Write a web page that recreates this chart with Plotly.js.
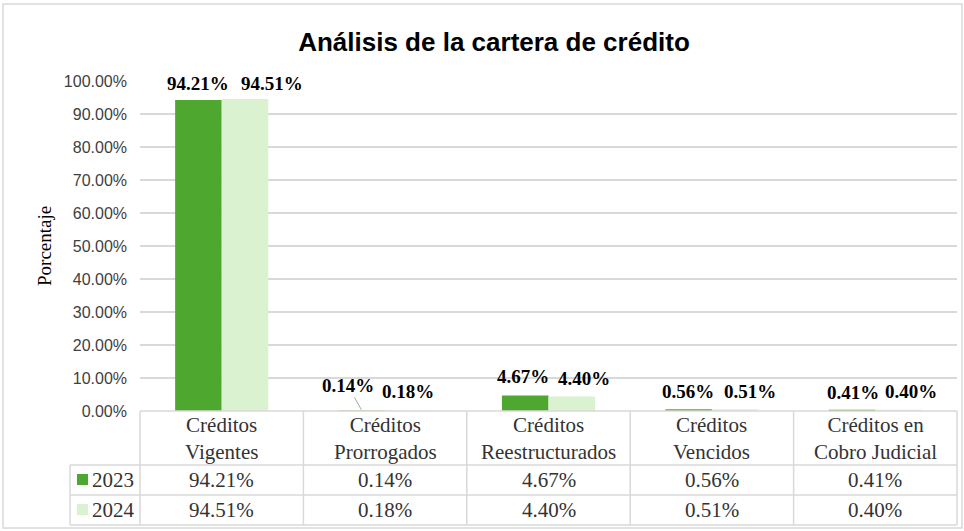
<!DOCTYPE html>
<html>
<head>
<meta charset="utf-8">
<script src="https://cdn.plot.ly/plotly-3.0.1.min.js"></script>
<style>html,body{margin:0;padding:0;background:#fff;}#chart{width:964px;height:531px;}</style>
</head>
<body>
<div id="chart"></div>
<script>
// ---- data ----
const categories = ['Créditos<br>Vigentes', 'Créditos<br>Prorrogados', 'Créditos<br>Reestructurados', 'Créditos<br>Vencidos', 'Créditos en<br>Cobro Judicial'];
const years = ['2023', '2024'];
const values2023 = [94.21, 0.14, 4.67, 0.56, 0.41];
const values2024 = [94.51, 0.18, 4.40, 0.51, 0.40];
const yTicks = [0, 10, 20, 30, 40, 50, 60, 70, 80, 90, 100];

// ---- style / layout config ----
const W = 964, H = 531;
const M = {l: 140, r: 7, t: 81, b: 120};
const PW = W - M.l - M.r, PH = H - M.t - M.b;
const px = x => (x - M.l) / PW;          // pixel x -> paper
const py = y => (H - M.b - y) / PH;      // pixel y -> paper
const colors = ['#4EA72E', '#DAF2D0'];
const gridColor = '#d9d9d9';
const serif = 'Liberation Serif, Times New Roman, serif';
const sans = 'Liberation Sans, Arial, sans-serif';
const bargap = 0.43;
const half = (1 - bargap) / 4;           // half of one bar width in category units
// data label pixel offsets (x from bar-group centre, y above bar top)
const labelDX = [[-24, 50], [-37, 23], [-26, 35], [-24, 38], [-22, 36]];
const labelDY = [[17, 16], [25, 19], [19, 17.5], [18, 18], [17.6, 17.7]];

const series = [values2023, values2024];
const fmt = v => v.toFixed(2) + '%';

const traces = series.map((vals, s) => ({
  type: 'bar', name: years[s], x: categories.map((c, i) => i), y: vals,
  marker: {color: colors[s]}, hoverinfo: 'skip', showlegend: false
}));

const annotations = [];
const shapes = [];

// data labels
series.forEach((vals, s) => {
  vals.forEach((v, i) => {
    const a = {
      x: i, y: v, xref: 'x', yref: 'y', text: '<b>' + fmt(v) + '</b>',
      showarrow: false, xshift: labelDX[i][s], yshift: labelDY[i][s],
      yanchor: 'middle', xanchor: 'center',
      font: {family: serif, size: 19, color: '#000'}
    };
    if (i === 1 && s === 0) {
      // leader line to small bar
      Object.assign(a, {
        x: i - half, showarrow: true, arrowhead: 0, arrowwidth: 1, arrowcolor: '#a6a6a6',
        ax: -14, ay: -labelDY[i][s], xshift: 0, yshift: 0, standoff: 1
      });
    }
    annotations.push(a);
  });
});

// table: header text + values
categories.forEach((c, i) => {
  annotations.push({x: i, y: py(438), xref: 'x', yref: 'paper', text: c, showarrow: false,
    font: {family: serif, size: 21, color: '#333'}, yanchor: 'middle', align: 'center'});
  series.forEach((vals, s) => {
    annotations.push({x: i, y: py(480 + 30 * s), xref: 'x', yref: 'paper', text: fmt(vals[i]),
      showarrow: false, font: {family: serif, size: 21, color: '#333'}, yanchor: 'middle'});
  });
});
years.forEach((yr, s) => {
  annotations.push({x: px(113), y: py(480 + 30 * s), xref: 'paper', yref: 'paper', text: yr,
    showarrow: false, font: {family: serif, size: 21, color: '#333'}, xanchor: 'center', yanchor: 'middle'});
  shapes.push({type: 'rect', xref: 'paper', yref: 'paper', x0: px(77), x1: px(88),
    y0: py(485 + 30 * s), y1: py(474 + 30 * s), fillcolor: colors[s], line: {width: 0}});
});

// y axis title
annotations.push({x: px(44), y: py(246), xref: 'paper', yref: 'paper', text: 'Porcentaje', textangle: -90,
  showarrow: false, font: {family: serif, size: 19, color: '#000'}, xanchor: 'center', yanchor: 'middle'});

// table lines
const line = {color: gridColor, width: 1.5};
shapes.push({type: 'line', xref: 'paper', yref: 'paper', x0: 0, x1: 1, y0: 0, y1: 0, line});
[465, 495, 525].forEach(y => shapes.push({type: 'line', xref: 'paper', yref: 'paper',
  x0: px(70), x1: 1, y0: py(y), y1: py(y), line}));
shapes.push({type: 'line', xref: 'paper', yref: 'paper', x0: px(70), x1: px(70), y0: py(465), y1: py(525), line});
for (let k = 0; k <= categories.length; k++) {
  const xp = k / categories.length;
  shapes.push({type: 'line', xref: 'paper', yref: 'paper', x0: xp, x1: xp, y0: 0, y1: py(525), line});
}
// outer border
shapes.push({type: 'rect', xref: 'paper', yref: 'paper', x0: px(3), x1: px(962), y0: py(528), y1: py(4),
  line: {color: gridColor, width: 1.5}, fillcolor: 'rgba(0,0,0,0)', layer: 'below'});

const layout = {
  width: W, height: H, margin: M,
  paper_bgcolor: '#fff', plot_bgcolor: '#fff',
  title: {text: '<b>Análisis de la cartera de crédito</b>', x: 494 / W, xanchor: 'center',
    y: 1 - 42 / H, yanchor: 'middle', xref: 'container', yref: 'container',
    font: {family: sans, size: 26, color: '#000'}},
  barmode: 'group', bargap: bargap, bargroupgap: 0,
  showlegend: false,
  xaxis: {range: [-0.5, categories.length - 0.5], showticklabels: false, showgrid: false,
    zeroline: false, showline: false, ticks: '', fixedrange: true},
  yaxis: {range: [0, 100], tickvals: yTicks, ticktext: yTicks.map(v => v.toFixed(2) + '%'),
    showgrid: true, gridcolor: gridColor, gridwidth: 1.5, zeroline: false, showline: false,
    ticks: '', ticklabelstandoff: 12, automargin: false,
    tickfont: {family: sans, size: 16, color: '#404040'}, fixedrange: true},
  annotations, shapes
};

Plotly.newPlot('chart', traces, layout, {displayModeBar: false, staticPlot: true});
</script>
</body>
</html>
